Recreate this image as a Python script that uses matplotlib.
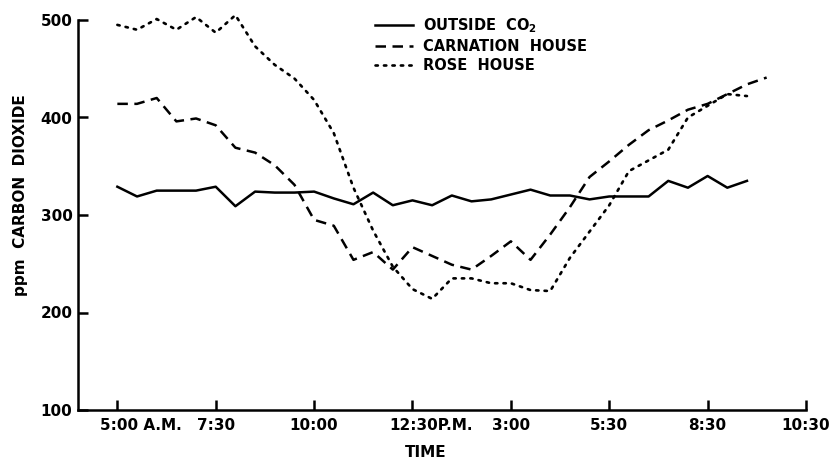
import numpy as np
import matplotlib
matplotlib.use("Agg")
import matplotlib.pyplot as plt
import matplotlib.transforms as mtransforms

plt.rcParams['font.family'] = ['DejaVu Sans']
plt.rcParams['font.weight'] = 'bold'

# readings every half hour, 5:00 A.M. onwards (hours of the day)
outside_co2 = [329, 319, 325, 325, 325, 329, 309, 324, 323, 323,
               324, 317, 311, 323, 310, 315, 310, 320, 314, 316,
               321, 326, 320, 320, 316, 319, 319, 319, 335, 328,
               340, 328, 335]
carnation_house = [414, 414, 420, 396, 399, 392, 369, 364, 351, 331,
                   295, 289, 254, 262, 244, 267, 258, 249, 244, 258,
                   273, 254, 280, 308, 339, 355, 372, 387, 397, 408,
                   414, 424, 434, 441]
rose_house = [495, 490, 501, 490, 503, 487, 505, 473, 454, 440,
              418, 384, 328, 284, 247, 224, 214, 235, 235, 230,
              230, 223, 222, 256, 283, 310, 345, 356, 367, 400,
              412, 424, 422]

t_outside = 5.0 + 0.5 * np.arange(len(outside_co2))
t_carnation = 5.0 + 0.5 * np.arange(len(carnation_house))
t_rose = 5.0 + 0.5 * np.arange(len(rose_house))

tick_pos = [5, 7.5, 10, 12.5, 15, 17.5, 20, 22.5]
tick_labels = ['5:00 A.M.', '7:30', '10:00', '12:30P.M.', '3:00', '5:30', '8:30', '10:30']
y_ticks = [100, 200, 300, 400, 500]

W, H = 830, 461
fig = plt.figure(figsize=(W / 100, H / 100), dpi=100)
ax = fig.add_axes([78 / W, 1 - 410 / H, (806 - 78) / W, (410 - 20) / H])

lw = 1.8
ax.plot(t_outside, outside_co2, color='black', lw=lw, clip_on=False,
        label=r'OUTSIDE  CO$_{\mathbf{2}}$')
ax.plot(t_carnation, carnation_house, color='black', lw=lw, clip_on=False,
        linestyle=(0, (4.2, 2.6)), label='CARNATION  HOUSE')
ax.plot(t_rose, rose_house, color='black', lw=1.9, clip_on=False,
        linestyle=(0, (0.9, 2.3)), dash_capstyle='round', label='ROSE  HOUSE')

ax.set_xlim(4, 22.5)
ax.set_ylim(100, 500)
for s in ['top', 'right']:
    ax.spines[s].set_visible(False)
for s in ['left', 'bottom']:
    ax.spines[s].set_linewidth(1.8)

ax.set_xticks(tick_pos)
ax.set_xticklabels(tick_labels)
ax.set_yticks(y_ticks)
ax.tick_params(direction='in', length=7, width=1.8, labelsize=11, pad=6)
ax.tick_params(axis='y', pad=4)

# the A.M./P.M. labels hang to the right of their tick
for lab, dx in [(ax.get_xticklabels()[0], 24), (ax.get_xticklabels()[3], 19)]:
    lab.set_transform(lab.get_transform() +
                      mtransforms.ScaledTranslation(dx / 100, 0, fig.dpi_scale_trans))

fig.text(21 / W, 1 - 195 / H, 'ppm  CARBON  DIOXIDE', rotation=90,
         ha='center', va='center', fontsize=11, fontweight='bold')
fig.text(426 / W, 1 - 452 / H, 'TIME', ha='center', va='center',
         fontsize=11, fontweight='bold')

ax.legend(loc='upper left', bbox_to_anchor=(375 / W, 1 - 16 / H),
          bbox_transform=fig.transFigure, frameon=False, fontsize=10.5,
          handlelength=2.6, handletextpad=0.7, labelspacing=0.3,
          borderpad=0, borderaxespad=0)

fig.savefig('out.png', dpi=100)
